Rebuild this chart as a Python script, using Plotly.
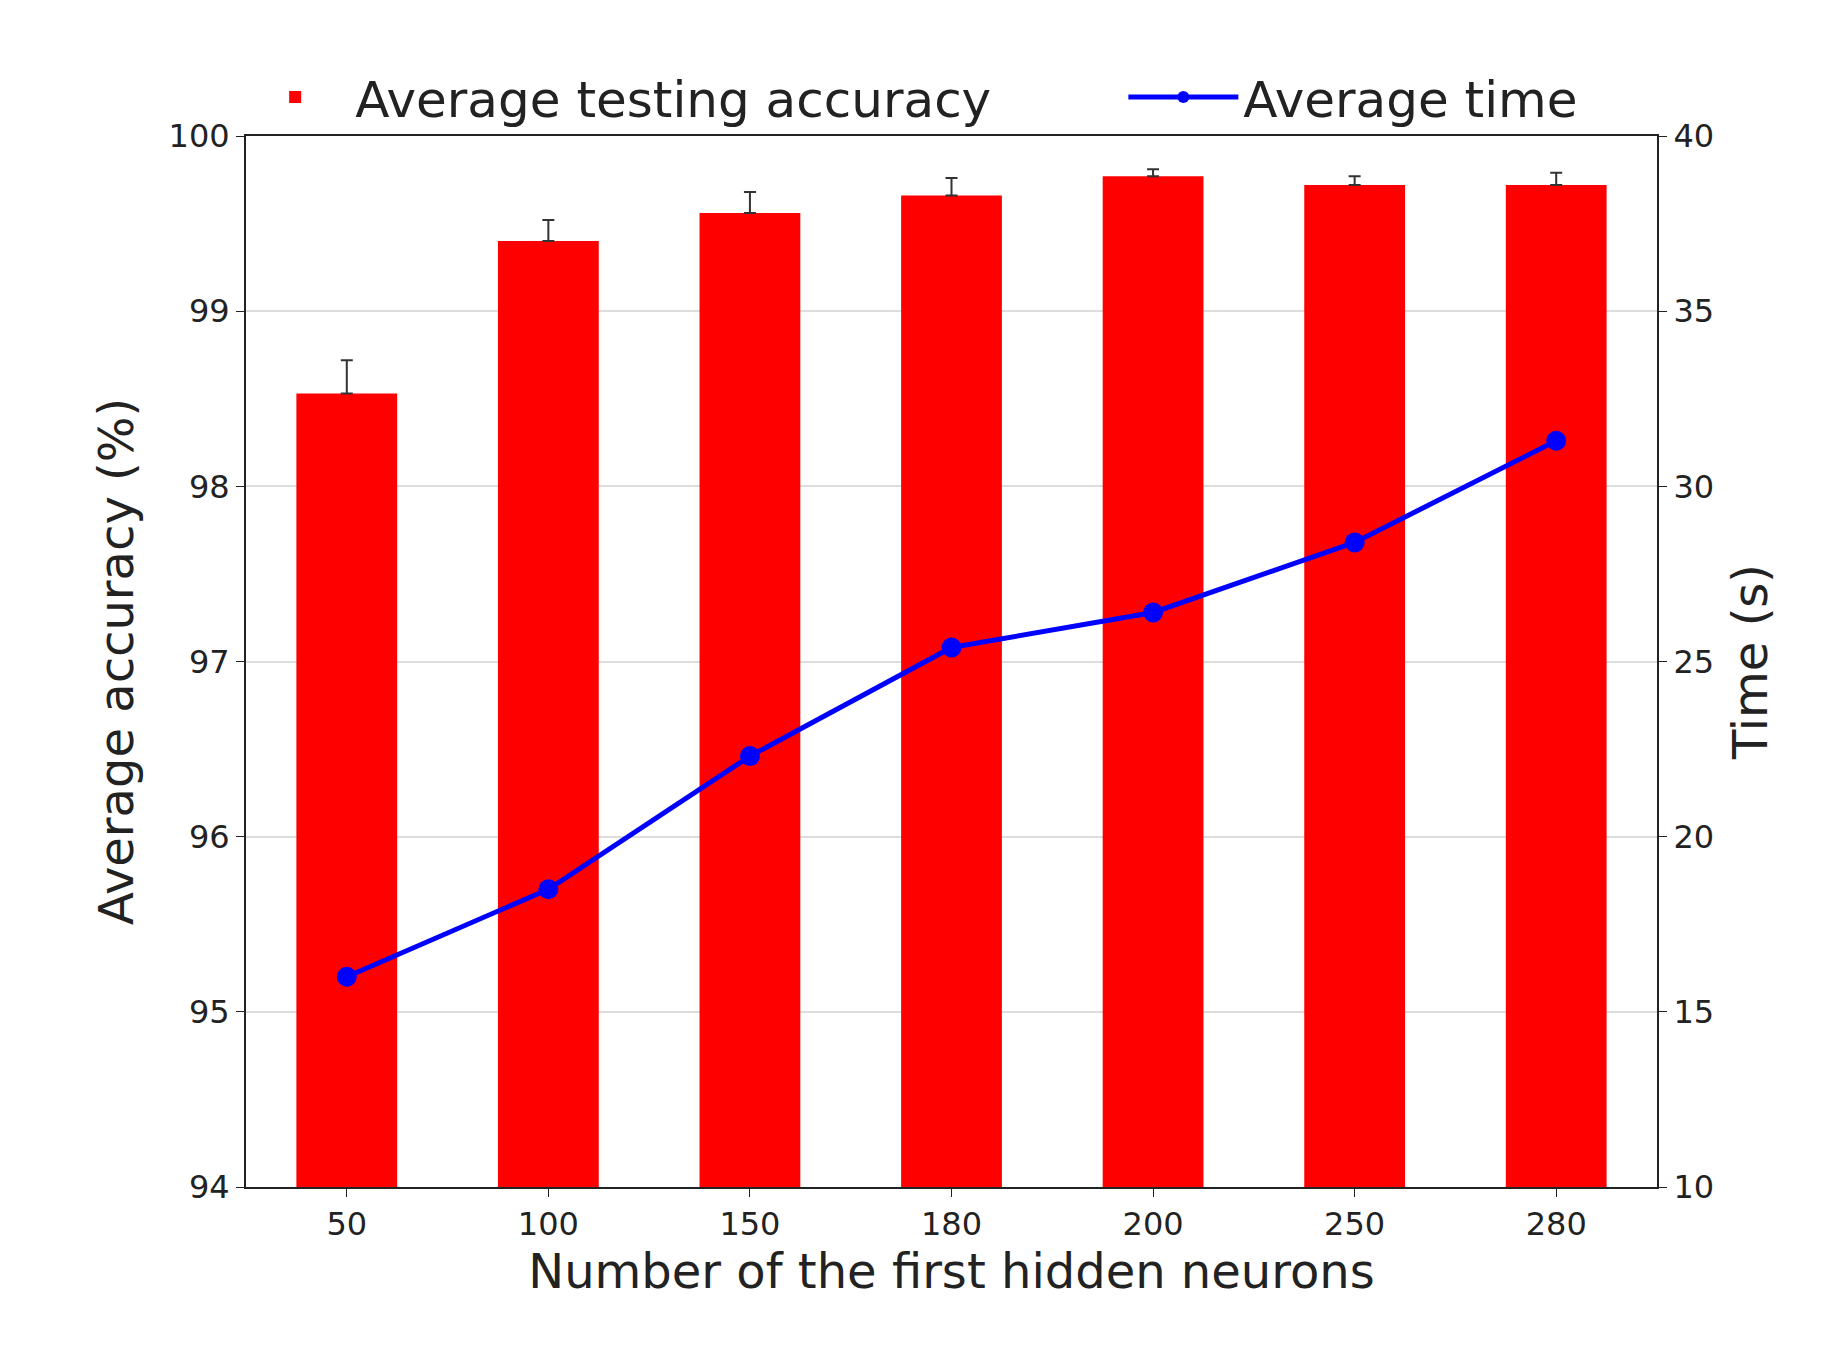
import plotly.graph_objects as go

neurons = ['50', '100', '150', '180', '200', '250', '280']
accuracy = [98.53, 99.40, 99.56, 99.66, 99.77, 99.72, 99.72]
acc_err = [0.19, 0.12, 0.12, 0.10, 0.04, 0.05, 0.07]
avg_time = [16.0, 18.5, 22.3, 25.4, 26.4, 28.4, 31.3]

fig = go.Figure()
fig.add_trace(go.Bar(
    x=neurons, y=accuracy, name='Average testing accuracy' + '\u00a0' * 8,
    marker=dict(color='#ff0000', line=dict(width=0)), width=0.5,
    error_y=dict(type='data', array=acc_err, arrayminus=[0]*7,
                 color='#333333', thickness=2, width=6),
))
fig.add_trace(go.Scatter(
    x=neurons, y=avg_time, name='Average time', yaxis='y2',
    mode='lines+markers', line=dict(color='#0000ff', width=5),
    marker=dict(color='#0000ff', size=20),
))

fig.update_layout(
    width=1827, height=1347,
    paper_bgcolor='white', plot_bgcolor='white',
    font=dict(family='DejaVu Sans', color='#222222', size=32),
    margin=dict(l=238, r=178, t=128, b=168),
    showlegend=True,
    legend=dict(orientation='h', x=0.47, xanchor='center', y=1.0, yanchor='bottom',
                font=dict(size=50), itemwidth=110, itemsizing='constant',
                bgcolor='rgba(0,0,0,0)'),
    xaxis=dict(
        title=dict(text='Number of the first hidden neurons', font=dict(size=48), standoff=10),
        showline=True, linecolor='#222222', linewidth=2, mirror=True,
        ticks='outside', ticklen=8, tickcolor='#222222', showgrid=False,
    ),
    yaxis=dict(
        title=dict(text='Average accuracy (%)', font=dict(size=48), standoff=20),
        range=[94, 100], dtick=1,
        showline=True, linecolor='#222222', linewidth=2,
        ticks='outside', ticklen=8, tickcolor='#222222',
        showgrid=True, gridcolor='#dddddd', gridwidth=2, zeroline=False,
    ),
    yaxis2=dict(
        title=dict(text='Time (s)', font=dict(size=48), standoff=20),
        overlaying='y', side='right', range=[10, 40], dtick=5,
        showline=True, linecolor='#222222', linewidth=2,
        ticks='outside', ticklen=8, tickcolor='#222222',
        showgrid=False, zeroline=False,
    ),
)

fig.write_html('out.html')
